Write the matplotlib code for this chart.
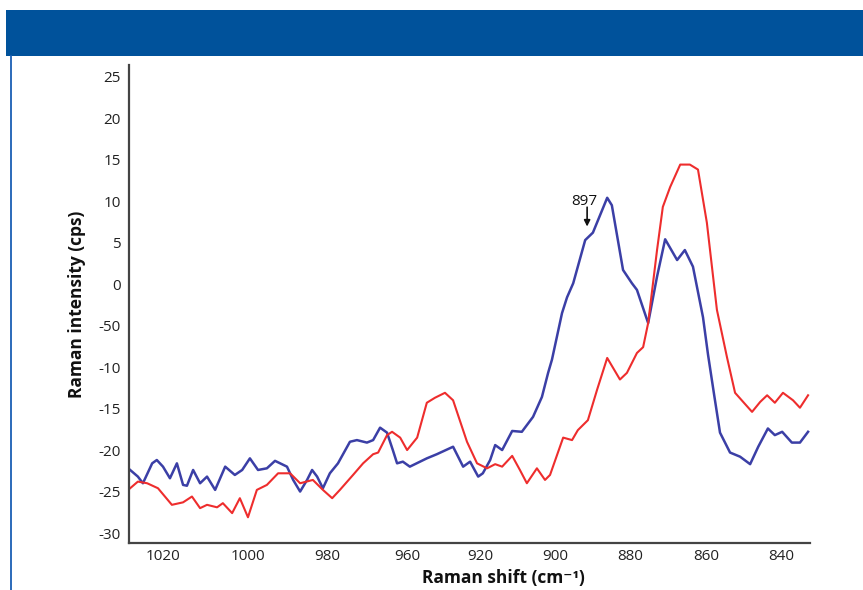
"""Raman spectra (blue / red) with the 897 band marked, recreated from a figure."""
import matplotlib
matplotlib.use("Agg")
import matplotlib.pyplot as plt
from matplotlib.patches import Rectangle

plt.rcParams["font.family"] = ["Open Sans", "DejaVu Sans"]

# ---- data ----
blue_shift = [1028.5, 1026.5, 1025.2, 1022.8, 1021.6, 1020.0, 1018.2, 1016.4, 1014.8, 1013.8,
              1012.2, 1010.4, 1008.6, 1006.5, 1003.9, 1001.4, 999.5, 997.5, 995.4, 993.1,
              991.0, 987.9, 986.3, 984.5, 982.7, 981.4, 980.1, 978.6, 976.8, 974.7,
              971.6, 969.8, 967.2, 965.6, 963.8, 962.0, 960.5, 959.4, 957.9, 956.1,
              951.7, 949.1, 944.9, 942.3, 940.5, 938.4, 937.2, 935.3, 934.0, 932.2,
              929.6, 927.1, 924.2, 921.9, 920.3, 919.3, 916.7, 915.4, 913.8, 910.7,
              908.7, 905.0, 903.8, 900.9, 898.6, 897.3, 894.4, 892.1, 890.0, 886.9,
              884.9, 882.8, 880.2, 878.9, 877.3, 875.8, 873.2, 870.6, 868.0, 865.9,
              863.4, 861.6, 859.7, 857.2, 855.1, 853.0]
blue_int = [-22.4, -23.2, -24.0, -21.6, -21.2, -22.0, -23.4, -21.6, -24.2, -24.3,
            -22.4, -24.0, -23.2, -24.8, -22.0, -23.0, -22.4, -21.0, -22.4, -22.2,
            -21.3, -22.0, -23.6, -25.0, -23.6, -22.4, -23.2, -24.6, -22.8, -21.6,
            -19.0, -18.8, -19.1, -18.8, -17.3, -17.9, -20.0, -21.6, -21.4, -22.0,
            -21.0, -20.5, -19.6, -22.0, -21.4, -23.2, -22.8, -21.2, -19.4, -20.0,
            -17.7, -17.8, -16.0, -13.6, -10.7, -9.1, -3.5, -1.6, 0.1, 5.3,
            6.2, 10.4, 9.5, 1.7, 0.1, -0.7, -4.7, 0.9, 5.4, 2.9,
            4.1, 2.1, -4.0, -8.5, -13.4, -17.9, -20.3, -20.8, -21.7, -19.6,
            -17.4, -18.2, -17.8, -19.1, -19.1, -17.8]

red_shift = [1028.5, 1026.5, 1024.1, 1021.3, 1017.7, 1014.8, 1012.5, 1010.4, 1008.6, 1006.0,
             1004.5, 1002.1, 1000.1, 998.0, 995.7, 993.1, 990.2, 987.1, 984.5, 981.2,
             978.6, 976.2, 974.2, 970.8, 968.2, 965.6, 964.3, 962.0, 960.7, 958.6,
             956.8, 954.2, 951.7, 949.6, 947.0, 944.9, 941.3, 938.7, 936.1, 934.0,
             932.2, 929.6, 927.6, 925.8, 923.2, 921.1, 919.8, 916.4, 914.1, 912.6,
             910.0, 907.6, 905.0, 901.7, 899.9, 897.3, 895.7, 894.4, 892.1, 890.6,
             888.7, 886.1, 883.6, 881.5, 879.2, 876.6, 874.0, 871.9, 869.8, 867.5,
             865.4, 863.6, 861.6, 859.5, 856.9, 855.1, 853.0]
red_int = [-24.6, -23.8, -24.0, -24.6, -26.6, -26.3, -25.6, -27.0, -26.6, -26.9,
           -26.4, -27.6, -25.8, -28.1, -24.8, -24.2, -22.8, -22.8, -24.0, -23.6,
           -24.8, -25.8, -24.8, -23.0, -21.6, -20.5, -20.3, -18.2, -17.8, -18.5,
           -20.0, -18.5, -14.3, -13.7, -13.1, -14.0, -19.0, -21.6, -22.2, -21.7,
           -22.0, -20.7, -22.4, -24.0, -22.2, -23.6, -23.0, -18.5, -18.8, -17.6,
           -16.4, -12.7, -8.9, -11.5, -10.7, -8.3, -7.6, -4.7, 4.1, 9.3,
           11.7, 14.4, 14.4, 13.8, 7.4, -3.1, -8.8, -13.1, -14.2, -15.4,
           -14.2, -13.4, -14.3, -13.1, -14.0, -14.9, -13.4]

# tick labels exactly as printed (the original skips 940 and prints -50 for -5)
x_labels = ["1020", "1000", "980", "960", "920", "900", "880", "860", "840"]
x_label_pos = [1020, 998.0, 977.5, 956.8, 937.9, 918.5, 899.1, 879.4, 860.0]
y_ticks = [25, 20, 15, 10, 5, 0, -5, -10, -15, -20, -25, -30]
y_labels = ["25", "20", "15", "10", "5", "0", "-50", "-10", "-15", "-20", "-25", "-30"]

peak_label = "897"
peak_shift = 910.2

BLUE = "#3b3fa6"
RED = "#ee2d2d"

fig = plt.figure(figsize=(8.63, 5.90), dpi=100)

# header band + thin side rule
fig.patches.append(Rectangle((6 / 863, 1 - 56 / 590), 1, 46 / 590, transform=fig.transFigure,
                             fc="#00529b", ec="none", zorder=0))
fig.add_artist(plt.Line2D([11 / 863, 11 / 863], [0, 1 - 56 / 590], transform=fig.transFigure,
                          color="#1a5fb4", lw=1.3))

ax = fig.add_axes([129 / 863, 47 / 590, 681 / 863, 478 / 590])
ax.plot(blue_shift, blue_int, color=BLUE, lw=1.8, solid_joinstyle="round")
ax.plot(red_shift, red_int, color=RED, lw=1.5, solid_joinstyle="round")

ax.set_xlim(1028.8, 852.5)
ax.set_ylim(-31.2, 26.4)

ax.set_xticks(x_label_pos)
ax.set_xticklabels(x_labels)
ax.set_yticks(y_ticks)
ax.set_yticklabels(y_labels)
ax.tick_params(length=0, labelsize=11, colors="#222")
ax.tick_params(axis="x", pad=4)
ax.tick_params(axis="y", pad=6)

for s in ["top", "right"]:
    ax.spines[s].set_visible(False)
for s in ["left", "bottom"]:
    ax.spines[s].set_color("#444")
    ax.spines[s].set_linewidth(1.6)

fig.text(503 / 863, 1 - 578 / 590, "Raman shift (cm\u207b\u00b9)", ha="center", va="center",
         fontsize=12.5, weight="bold", color="#111")
ax.set_ylabel("Raman intensity (cps)", fontsize=12.5, weight="bold", labelpad=9, color="#111")

# peak marker
ax.annotate("", xy=(peak_shift, 6.6), xytext=(peak_shift, 9.6),
            arrowprops=dict(arrowstyle="-|>", color="#111", lw=1.2, mutation_scale=9))
ax.text(peak_shift + 0.6, 10.0, peak_label, ha="center", va="center", fontsize=11, color="#111")

fig.savefig("out.png", dpi=100)
